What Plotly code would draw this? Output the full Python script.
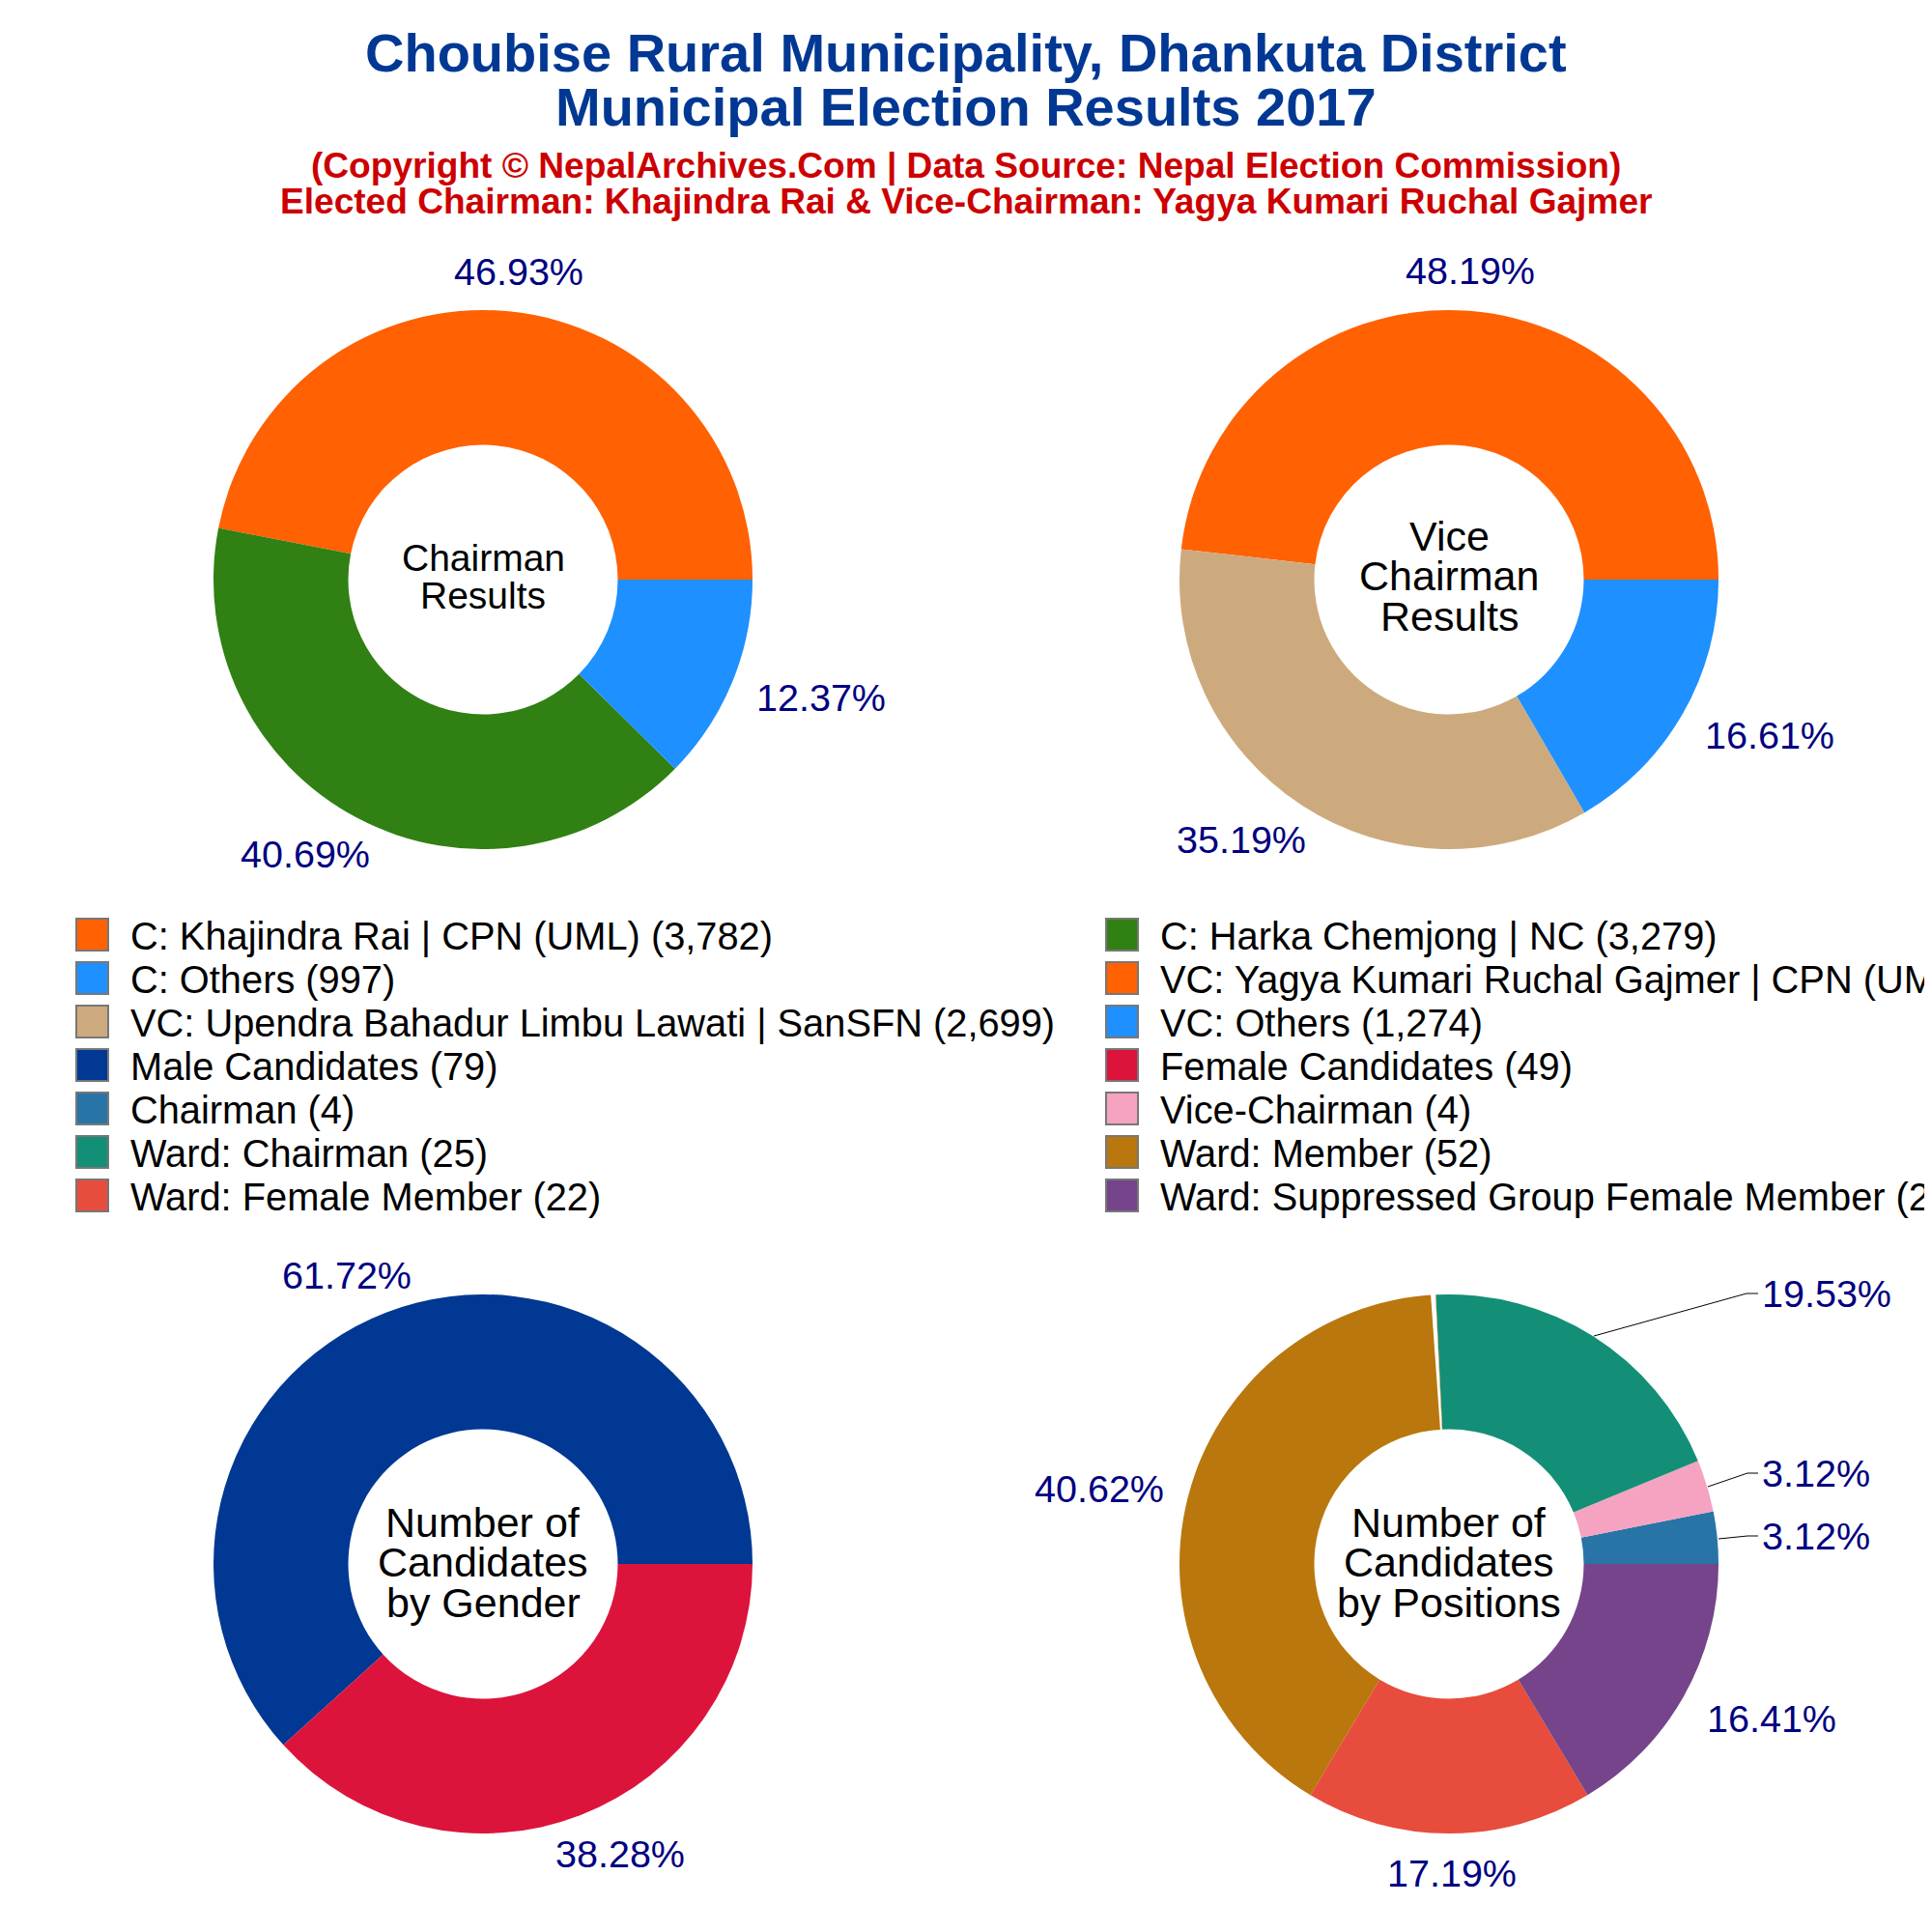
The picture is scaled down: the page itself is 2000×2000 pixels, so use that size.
import plotly.graph_objects as go

FONT = "Liberation Sans"
NAVY = "#000080"
PAGE = 2000
BODY_MARGIN = 8  # the html body pushes the figure 8 px right and down

# chart values
chairman_labels = ["C: Khajindra Rai | CPN (UML) (3,782)", "C: Harka Chemjong | NC (3,279)", "C: Others (997)"]
chairman_values = [3782, 3279, 997]
chairman_text = ["46.93%", "40.69%", "12.37%"]
chairman_colors = ["#FF6103", "#308014", "#1E90FF"]

vice_labels = ["VC: Yagya Kumari Ruchal Gajmer | CPN (UML) (3,696)",
               "VC: Upendra Bahadur Limbu Lawati | SanSFN (2,699)", "VC: Others (1,274)"]
vice_values = [3696, 2699, 1274]
vice_text = ["48.19%", "35.19%", "16.61%"]
vice_colors = ["#FF6103", "#CDAA7D", "#1E90FF"]

gender_labels = ["Male Candidates (79)", "Female Candidates (49)"]
gender_values = [79, 49]
gender_text = ["61.72%", "38.28%"]
gender_colors = ["#003893", "#DC143C"]

position_labels = ["Chairman (4)", "Vice-Chairman (4)", "Ward: Chairman (25)", "Ward: Member (52)",
                   "Ward: Female Member (22)", "Ward: Suppressed Group Female Member (21)"]
position_values = [4, 4, 25, 52, 22, 21]
position_text = ["3.12%", "3.12%", "19.53%", "40.62%", "17.19%", "16.41%"]
position_colors = ["#2874A6", "#F5A3C1", "#148F77", "#B9770E", "#E74C3C", "#76448A"]

# where the percent labels sit on the page (label centres, pixels)
chairman_spots = [(537, 281), (316, 884), (850, 722)]
vice_spots = [(1522, 280), (1285, 869), (1832, 761)]
gender_spots = [(359, 1320), (642, 1919)]
position_spots = [(1880, 1590), (1880, 1525), (1891, 1339), (1138, 1541), (1503, 1939), (1834, 1779)]

# leader lines of the fourth pie
leader_paths = [
    [(1779, 1593), (1809, 1590), (1820, 1590)],
    [(1768, 1539), (1809, 1525), (1820, 1525)],
    [(1650, 1383), (1808, 1339), (1820, 1339)],
]


def px_x(px):
    return (px - BODY_MARGIN) / PAGE


def px_y(py):
    return 1 - (py - BODY_MARGIN) / PAGE


def add_text(fig, text, px, py, size, color, anchor="center"):
    fig.add_annotation(text=text, x=px_x(px), y=px_y(py), xref="paper", yref="paper",
                       showarrow=False, xanchor=anchor, yanchor="middle",
                       font=dict(family=FONT, size=size, color=color))


def add_pie(fig, labels, values, text, spots, colors, cx, cy, r=279):
    fig.add_trace(go.Pie(
        labels=labels, values=values, textinfo="none",
        hole=0.5, sort=False, direction="counterclockwise",
        # counterclockwise pies hang the first slice before the rotation angle
        rotation=90 - 360 * values[0] / sum(values),
        marker=dict(colors=colors), showlegend=False,
        domain=dict(x=[px_x(cx - r), px_x(cx + r)], y=[px_y(cy + r), px_y(cy - r)]),
    ))
    # plotly's own outside labels land elsewhere, so they go on as annotations
    for label, (px, py) in zip(text, spots):
        add_text(fig, label, px, py, 39.5, NAVY)


fig = go.Figure()
add_pie(fig, chairman_labels, chairman_values, chairman_text, chairman_spots, chairman_colors, 500, 600)
add_pie(fig, vice_labels, vice_values, vice_text, vice_spots, vice_colors, 1500, 600)
add_pie(fig, gender_labels, gender_values, gender_text, gender_spots, gender_colors, 500, 1619)
add_pie(fig, position_labels, position_values, position_text, position_spots, position_colors, 1500, 1619)

for points in leader_paths:
    path = "M " + " L ".join(f"{px_x(x)} {px_y(y)}" for x, y in points)
    fig.add_shape(type="path", path=path, xref="paper", yref="paper", line=dict(color="black", width=1))

# thin white gap between Ward: Member and Ward: Chairman
gap = [(1481, 1339), (1486, 1339), (1492.8, 1481), (1491, 1481)]
fig.add_shape(type="path", xref="paper", yref="paper", fillcolor="white", line=dict(width=0),
              path="M " + " L ".join(f"{px_x(x)} {px_y(y)}" for x, y in gap) + " Z")

# title and centre captions, one annotation per line
page_text = [
    ("<b>Choubise Rural Municipality, Dhankuta District</b>", 1000, 55, 56, "#003893"),
    ("<b>Municipal Election Results 2017</b>", 1000, 111, 56, "#003893"),
    ("<b>(Copyright © NepalArchives.Com | Data Source: Nepal Election Commission)</b>", 1000, 172, 37.1, "#CC0000"),
    ("<b>Elected Chairman: Khajindra Rai &amp; Vice-Chairman: Yagya Kumari Ruchal Gajmer</b>", 1000, 208, 37.1, "#CC0000"),
    ("Chairman", 500, 578, 39, "black"),
    ("Results", 500, 616, 39, "black"),
    ("Vice", 1500, 555, 43, "black"),
    ("Chairman", 1500, 596, 43, "black"),
    ("Results", 1500, 638, 43, "black"),
    ("Number of", 500, 1576, 43, "black"),
    ("Candidates", 500, 1617, 43, "black"),
    ("by Gender", 500, 1659, 43, "black"),
    ("Number of", 1500, 1576, 43, "black"),
    ("Candidates", 1500, 1617, 43, "black"),
    ("by Positions", 1500, 1659, 43, "black"),
]
for line, px, py, size, color in page_text:
    add_text(fig, line, px, py, size, color)

# two column legend, wider than the page like the reference; the built-in one
# would pull itself back inside and keep its 12 px swatches
legend_labels = chairman_labels + vice_labels + gender_labels + position_labels
legend_colors = chairman_colors + vice_colors + gender_colors + position_colors
for i, (label, color) in enumerate(zip(legend_labels, legend_colors)):
    left = 79 if i % 2 == 0 else 1145
    top = 951 + 45 * (i // 2)
    fig.add_shape(type="rect", xref="paper", yref="paper",
                  x0=px_x(left), x1=px_x(left + 33), y0=px_y(top + 33), y1=px_y(top),
                  fillcolor=color, line=dict(color="#777777", width=2))
    add_text(fig, label, left + 54, top + 17.5, 39.8, "black", anchor="left")

fig.update_layout(
    width=PAGE, height=PAGE, autosize=False,
    margin=dict(l=0, r=0, t=0, b=0),
    paper_bgcolor="white", plot_bgcolor="white",
    font=dict(family=FONT, color="black"),
)
fig.write_html("out.html")
